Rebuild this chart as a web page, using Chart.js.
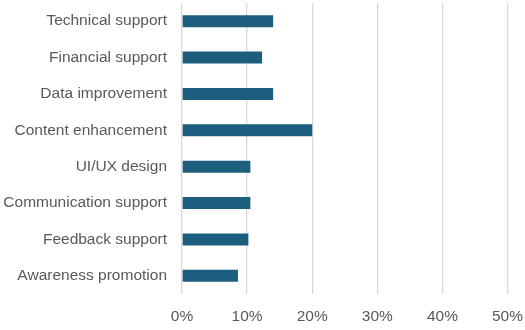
<!DOCTYPE html>
<html>
<head>
<meta charset="utf-8">
<script src="https://cdn.jsdelivr.net/npm/chart.js@4"></script>
<style>
  html, body { margin: 0; padding: 0; background: #fff; }
</style>
</head>
<body>
<canvas id="grafico" width="525" height="330"></canvas>
<script>
const categorias = [
  "Technical support",
  "Financial support",
  "Data improvement",
  "Content enhancement",
  "UI/UX design",
  "Communication support",
  "Feedback support",
  "Awareness promotion",
];
const valores = [14, 12.3, 14, 20, 10.5, 10.5, 10.2, 8.6];
const ticksX = [0, 10, 20, 30, 40, 50];

const cinza = "#595959";
Chart.defaults.font.family = "'Liberation Sans', Arial, sans-serif";
Chart.defaults.font.size = 15.5;
Chart.defaults.color = cinza;

new Chart(document.getElementById("grafico"), {
  type: "bar",
  data: {
    labels: categorias,
    datasets: [
      {
        data: valores,
        backgroundColor: "#1d5e7e",
        barPercentage: 0.33,
        categoryPercentage: 1,
      },
    ],
  },
  options: {
    indexAxis: "y",
    responsive: false,
    animation: false,
    layout: { padding: { top: 3, right: 17.5, left: 0, bottom: 0 } },
    plugins: { legend: { display: false }, tooltip: { enabled: false } },
    scales: {
      x: {
        min: ticksX[0],
        max: ticksX[ticksX.length - 1],
        afterBuildTicks: (s) => { s.ticks = ticksX.map((v) => ({ value: v })); },
        ticks: { callback: (v) => v + "%", padding: 13, maxRotation: 0, autoSkip: false },
        grid: { color: "#d9d9d9", lineWidth: 1.3, drawTicks: false },
        border: { display: false },
        afterFit: (s) => {
          s.height = 36;
          s.paddingLeft = 0;
          s.paddingRight = 0;
        },
      },
      y: {
        grid: { display: false },
        border: { display: false },
        ticks: { padding: 7, color: cinza, autoSkip: false },
        afterFit: (s) => {
          s.width = 182;
          s.paddingTop = 0;
          s.paddingBottom = 0;
        },
      },
    },
  },
});
</script>
</body>
</html>
